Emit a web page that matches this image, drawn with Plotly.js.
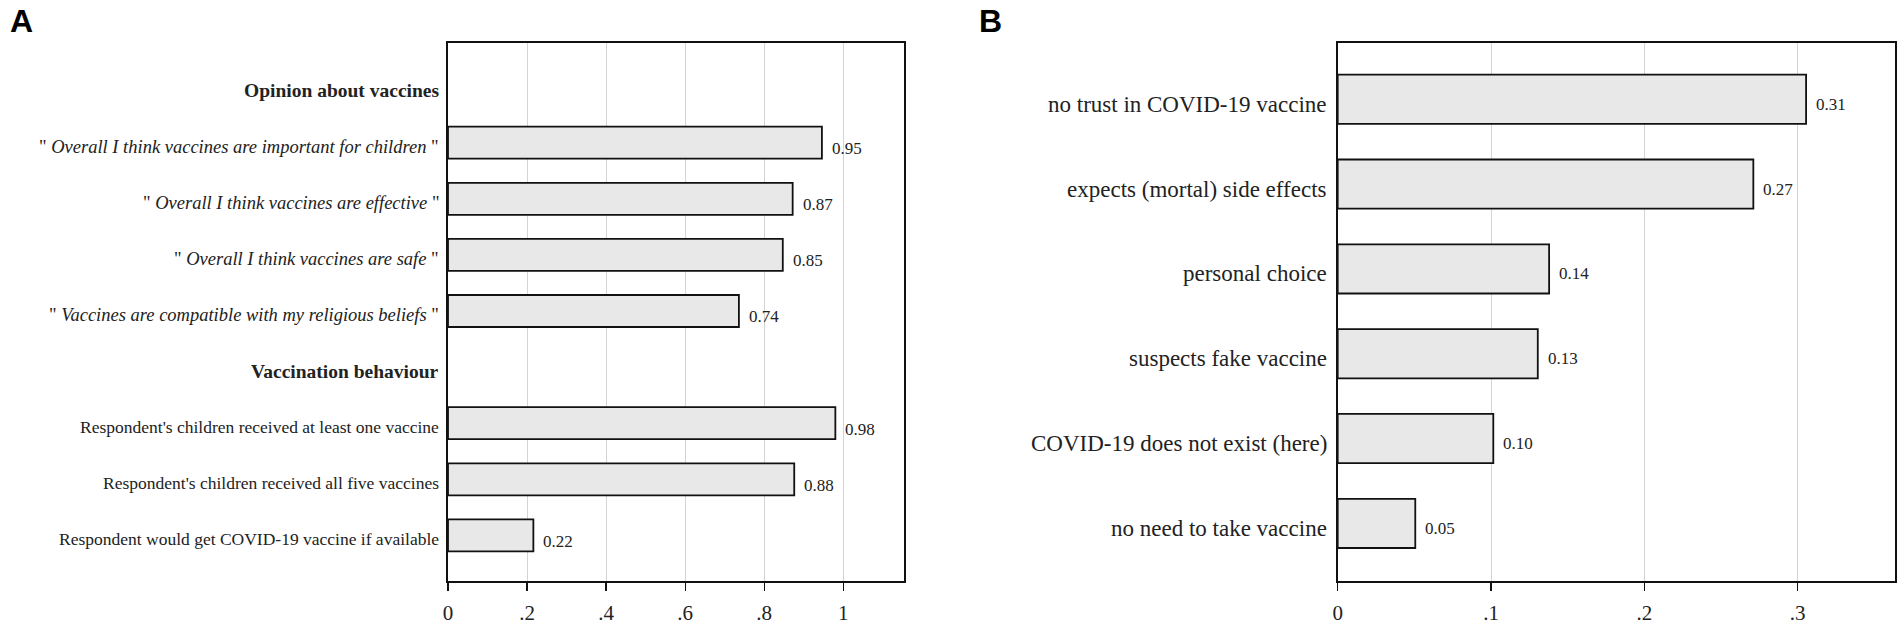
<!DOCTYPE html>
<html>
<head>
<meta charset="utf-8">
<script src="https://cdn.plot.ly/plotly-3.0.1.min.js"></script>
<style>html,body{margin:0;padding:0;background:#fff;}#chart{width:1902px;height:626px;}</style>
</head>
<body>
<div id="chart"></div>
<script>
// Panel A data
const catsA = [
  "<b>Opinion about vaccines</b>",
  "\" <i>Overall I think vaccines are important for children</i> \"",
  "\" <i>Overall I think vaccines are effective</i> \"",
  "\" <i>Overall I think vaccines are safe</i> \"",
  "\" <i>Vaccines are compatible with my religious beliefs</i> \"",
  "<b>Vaccination behaviour</b>",
  "Respondent's children received at least one vaccine",
  "Respondent's children received all five vaccines",
  "Respondent would get COVID-19 vaccine if available"
];
const valsA = [null, 0.946, 0.872, 0.847, 0.736, null, 0.980, 0.876, 0.216];
const tickValsA = [0, 0.2, 0.4, 0.6, 0.8, 1];
const tickTextA = ["0", ".2", ".4", ".6", ".8", "1"];

// Panel B data
const catsB = [
  "no trust in COVID-19 vaccine",
  "expects (mortal) side effects",
  "personal choice",
  "suspects fake vaccine",
  "COVID-19 does not exist (here)",
  "no need to take vaccine"
];
const valsB = [0.3055, 0.2711, 0.1379, 0.1305, 0.1015, 0.0506];
const tickValsB = [0, 0.1, 0.2, 0.3];
const tickTextB = ["0", ".1", ".2", ".3"];

const W = 1902, H = 626;
const SERIF = "Liberation Serif, Times New Roman, serif";
const idxA = catsA.map((_, i) => i);
const idxB = catsB.map((_, i) => i);

// size per label style (bold / italic are wider in the reference typeface)
function sizeA(t) {
  if (t.indexOf("<b>") >= 0) return 19.5;
  if (t.indexOf("<i>") >= 0) return 18.5;
  return 17.5;
}

const barStyle = {color: "#e8e8e8", line: {color: "#111", width: 1.8}};

const traces = [
  {type: "bar", orientation: "h", x: valsA, y: idxA, width: 0.57,
   marker: barStyle, xaxis: "x", yaxis: "y", hoverinfo: "none", showlegend: false},
  {type: "bar", orientation: "h", x: valsB, y: idxB, width: 0.58,
   marker: barStyle, xaxis: "x2", yaxis: "y2", hoverinfo: "none", showlegend: false}
];

const annotations = [];
// category labels (left of each panel)
catsA.forEach((t, i) => {
  annotations.push({x: 0, y: i, xref: "x", yref: "y", text: t,
    showarrow: false, xanchor: "right", yanchor: "middle", xshift: -7, yshift: -4,
    font: {family: SERIF, size: sizeA(t), color: "#222"}});
});
catsB.forEach((t, i) => {
  annotations.push({x: 0, y: i, xref: "x2", yref: "y2", text: t,
    showarrow: false, xanchor: "right", yanchor: "middle", xshift: -9, yshift: -5,
    font: {family: SERIF, size: 23, color: "#222"}});
});
// value labels
valsA.forEach((v, i) => {
  if (v === null) return;
  annotations.push({x: v, y: i, xref: "x", yref: "y", text: v.toFixed(2),
    showarrow: false, xanchor: "left", yanchor: "middle", xshift: 8, yshift: -6,
    font: {family: SERIF, size: 17, color: "#222"}});
});
valsB.forEach((v, i) => {
  annotations.push({x: v, y: i, xref: "x2", yref: "y2", text: v.toFixed(2),
    showarrow: false, xanchor: "left", yanchor: "middle", xshift: 8, yshift: -5,
    font: {family: SERIF, size: 17, color: "#222"}});
});
// panel letters
annotations.push({x: 8 / W, y: 1 - 21 / H, xref: "paper", yref: "paper", text: "<b>A</b>",
  showarrow: false, xanchor: "left", yanchor: "middle",
  font: {family: "Liberation Sans, Arial, sans-serif", size: 32, color: "#000"}});
annotations.push({x: 977 / W, y: 1 - 21 / H, xref: "paper", yref: "paper", text: "<b>B</b>",
  showarrow: false, xanchor: "left", yanchor: "middle",
  font: {family: "Liberation Sans, Arial, sans-serif", size: 32, color: "#000"}});

const yDom = [(H - 581) / H, (H - 42.5) / H];

const xCommon = {
  showline: true, mirror: true, linecolor: "#111", linewidth: 1.6,
  showgrid: true, gridcolor: "#d4d4d4", gridwidth: 1,
  zeroline: false, ticks: "outside", ticklen: 8, tickwidth: 1.2, tickcolor: "#111",
  tickfont: {family: SERIF, size: 21, color: "#222"}, ticklabelstandoff: 4,
  fixedrange: true
};
const yCommon = {
  showline: true, mirror: true, linecolor: "#111", linewidth: 1.6,
  showgrid: false, zeroline: false, ticks: "", showticklabels: false, fixedrange: true
};

const layout = {
  width: W, height: H,
  margin: {l: 0, r: 0, t: 0, b: 0},
  paper_bgcolor: "#fff", plot_bgcolor: "#fff",
  showlegend: false,
  xaxis: Object.assign({}, xCommon, {domain: [448 / W, 904 / W], range: [0, 1.1537],
    tickvals: tickValsA, ticktext: tickTextA, anchor: "y"}),
  yaxis: Object.assign({}, yCommon, {domain: yDom, range: [8.813, -0.786],
    tickvals: idxA, anchor: "x"}),
  xaxis2: Object.assign({}, xCommon, {domain: [1337.7 / W, 1895 / W], range: [0, 0.3635],
    tickvals: tickValsB, ticktext: tickTextB, anchor: "y2"}),
  yaxis2: Object.assign({}, yCommon, {domain: yDom, range: [5.679, -0.669],
    tickvals: idxB, anchor: "x2"}),
  annotations: annotations
};

Plotly.newPlot("chart", traces, layout, {staticPlot: true, displayModeBar: false});
</script>
</body>
</html>
